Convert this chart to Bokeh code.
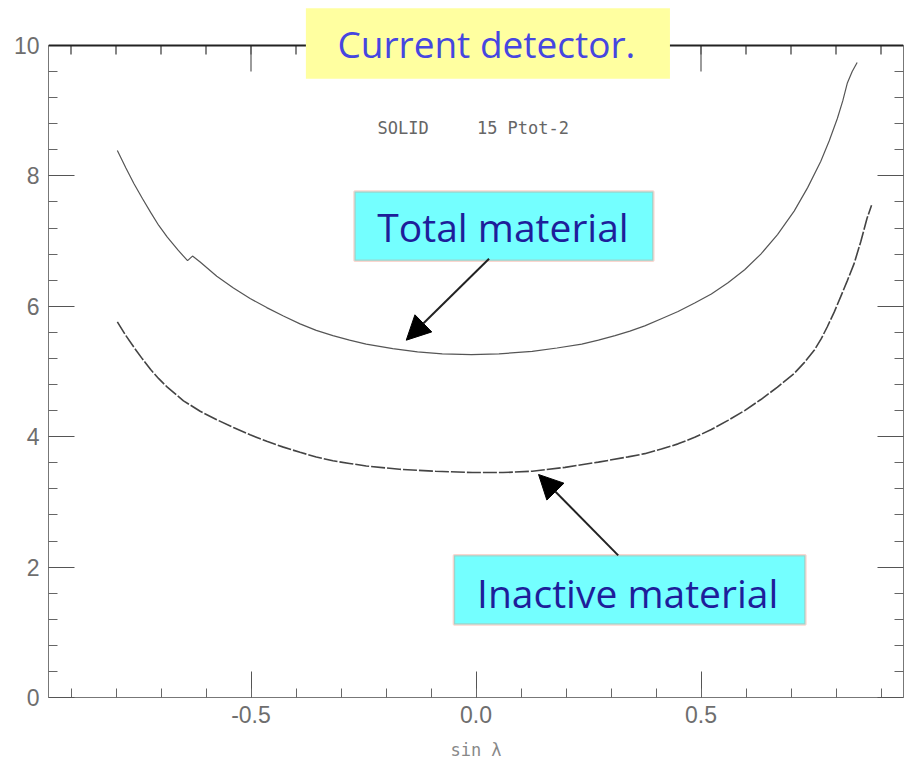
from bokeh.plotting import figure
from bokeh.models import (Range1d, LinearAxis, FixedTicker, Label, BoxAnnotation,
                          Arrow, NormalHead, Span)
from bokeh.embed import file_html
from bokeh.resources import INLINE

# ---- data ----
sin_lambda_total = [-0.797, -0.778, -0.760, -0.741, -0.723, -0.705, -0.686, -0.662, -0.641,
                    -0.630, -0.613, -0.576, -0.539, -0.502, -0.465, -0.428, -0.391, -0.355,
                    -0.318, -0.281, -0.244, -0.185, -0.130, -0.075, -0.010, 0.051, 0.125,
                    0.180, 0.235, 0.272, 0.309, 0.342, 0.375, 0.412, 0.449, 0.486, 0.523,
                    0.560, 0.597, 0.633, 0.670, 0.707, 0.737, 0.766, 0.785, 0.803, 0.815,
                    0.825, 0.836, 0.847]
total_material = [8.39, 8.12, 7.88, 7.65, 7.44, 7.24, 7.06, 6.86, 6.70,
                  6.77, 6.68, 6.46, 6.28, 6.12, 5.98, 5.85, 5.73, 5.63,
                  5.55, 5.48, 5.42, 5.35, 5.30, 5.27, 5.26, 5.27, 5.31,
                  5.36, 5.42, 5.48, 5.55, 5.62, 5.70, 5.81, 5.92, 6.05, 6.19,
                  6.36, 6.56, 6.80, 7.10, 7.46, 7.82, 8.22, 8.54, 8.88, 9.15,
                  9.42, 9.60, 9.74]

sin_lambda_inactive = [-0.797, -0.778, -0.760, -0.741, -0.723, -0.705, -0.686, -0.650, -0.613,
                       -0.576, -0.539, -0.502, -0.465, -0.428, -0.391, -0.355, -0.318, -0.281,
                       -0.244, -0.170, -0.090, -0.008, 0.060, 0.125, 0.198, 0.272, 0.338,
                       0.375, 0.412, 0.449, 0.486, 0.523, 0.560, 0.597, 0.633, 0.670, 0.707,
                       0.730, 0.752, 0.767, 0.781, 0.796, 0.810, 0.825, 0.840, 0.855, 0.869,
                       0.879]
inactive_material = [5.76, 5.55, 5.37, 5.19, 5.03, 4.89, 4.76, 4.55, 4.39,
                     4.26, 4.14, 4.03, 3.93, 3.84, 3.76, 3.69, 3.63, 3.59,
                     3.55, 3.50, 3.47, 3.45, 3.45, 3.47, 3.53, 3.61, 3.69,
                     3.74, 3.81, 3.89, 3.99, 4.11, 4.25, 4.40, 4.57, 4.76, 4.97,
                     5.14, 5.33, 5.50, 5.69, 5.91, 6.14, 6.39, 6.65, 6.99, 7.35,
                     7.55]

x_major_ticks = [-0.5, 0.0, 0.5]
x_minor_ticks = [-0.9, -0.8, -0.7, -0.6, -0.5, -0.4, -0.3, -0.2, -0.1, 0.0,
                 0.1, 0.2, 0.3, 0.4, 0.5, 0.6, 0.7, 0.8, 0.9]
x_tick_labels = {-0.5: "-0.5", 0.0: "0.0", 0.5: "0.5"}
y_major_ticks = [0, 2, 4, 6, 8, 10]
y_minor_ticks = [0.4, 0.8, 1.2, 1.6, 2.4, 2.8, 3.2, 3.6, 4.4, 4.8, 5.2, 5.6,
                 6.4, 6.8, 7.2, 7.6, 8.4, 8.8, 9.2, 9.6]

title_text = "Current detector."
total_label = "Total material"
inactive_label = "Inactive material"

Y_TOP = 10          # where the top edge of the plot box sits
PX_PER_Y = 65.2     # pixels per y unit (697 px frame / 10.69 units)

# the frame reaches the top of the page so that the title box (which overlaps the
# top edge) is not clipped; the top edge is drawn at y = 10
p = figure(width=905, height=762, output_backend="svg", toolbar_location=None,
           x_range=Range1d(-0.95, 0.95), y_range=Range1d(0, 10.69),
           x_axis_location=None, y_axis_location=None,
           min_border_left=48, min_border_right=2, min_border_top=0, min_border_bottom=65)
p.outline_line_color = None
p.xgrid.visible = False
p.ygrid.visible = False
p.background_fill_color = "white"
p.border_fill_color = "white"


def style_axis(ax, labels=True, line_color="#777777", line_width=1):
    ax.axis_line_color = line_color
    ax.axis_line_width = line_width
    ax.major_tick_line_color = "#555555"
    ax.minor_tick_line_color = "#666666"
    ax.major_tick_in = 26
    ax.major_tick_out = 0
    ax.minor_tick_in = 9
    ax.minor_tick_out = 0
    if labels:
        ax.major_label_text_font = "Liberation Sans"
        ax.major_label_text_font_size = "23px"
        ax.major_label_text_color = "#6e6e6e"
    else:
        ax.major_label_text_font_size = "1px"
        ax.major_label_text_color = None
        ax.major_label_standoff = 0


xt = FixedTicker(ticks=x_major_ticks, minor_ticks=x_minor_ticks)
yt = FixedTicker(ticks=y_major_ticks, minor_ticks=y_minor_ticks)

xb = LinearAxis(ticker=xt, axis_label="sin λ")
style_axis(xb)
xb.major_label_overrides = x_tick_labels
xb.major_label_standoff = 8
xb.axis_label_standoff = 14
xb.axis_label_text_font = "DejaVu Sans Mono"
xb.axis_label_text_font_size = "17px"
xb.axis_label_text_font_style = "normal"
xb.axis_label_text_color = "#888888"
p.add_layout(xb, "below")

yl = LinearAxis(ticker=yt, bounds=(0, 10))
style_axis(yl)
yl.major_label_standoff = 9
p.add_layout(yl, "left")

yr = LinearAxis(ticker=yt, bounds=(0, 10))
style_axis(yr, labels=False)
p.add_layout(yr, "right")

# ---- top edge of the plot box: a line at y = 10 with downward ticks ----
p.add_layout(Span(location=Y_TOP, dimension="width", line_color="#222222", line_width=2))
minor_len = 9 / PX_PER_Y
major_len = 26 / PX_PER_Y
p.segment(x0=x_minor_ticks, y0=[Y_TOP] * len(x_minor_ticks),
          x1=x_minor_ticks, y1=[Y_TOP - minor_len] * len(x_minor_ticks),
          line_color="#444444", line_width=1.3, level="annotation")
p.segment(x0=x_major_ticks, y0=[Y_TOP] * len(x_major_ticks),
          x1=x_major_ticks, y1=[Y_TOP - major_len] * len(x_major_ticks),
          line_color="#666666", line_width=1.3, level="annotation")

# ---- curves ----
p.line(sin_lambda_total, total_material, line_color="#555555", line_width=1.2)
p.line(sin_lambda_inactive, inactive_material, line_color="#444444", line_width=1.6,
       line_dash="14 2")

# ---- annotation boxes ----
p.add_layout(BoxAnnotation(left=-0.378, right=0.431, bottom=9.49, top=10.57,
                           fill_color="#ffffa0", fill_alpha=1.0, line_color=None))
p.add_layout(BoxAnnotation(left=-0.270, right=0.394, bottom=6.70, top=7.76,
                           fill_color="#74ffff", fill_alpha=1.0,
                           line_color="#f07860", line_width=2.5))
p.add_layout(BoxAnnotation(left=-0.049, right=0.732, bottom=1.12, top=2.18,
                           fill_color="#74ffff", fill_alpha=1.0,
                           line_color="#f07860", line_width=2.5))

p.add_layout(Label(x=0.023, y=10.03, text=title_text, text_align="center",
                   text_baseline="middle", text_font="Open Sans",
                   text_font_size="37px", text_color="#4646e0"))
p.add_layout(Label(x=0.060, y=7.22, text=total_label, text_align="center",
                   text_baseline="middle", text_font="Open Sans",
                   text_font_size="39px", text_color="#1e1e9a"))
p.add_layout(Label(x=0.337, y=1.61, text=inactive_label, text_align="center",
                   text_baseline="middle", text_font="Open Sans",
                   text_font_size="39px", text_color="#1e1e9a"))

p.add_layout(Label(x=-0.219, y=8.74, text="SOLID", text_align="left",
                   text_baseline="middle", text_font="DejaVu Sans Mono",
                   text_font_size="17px", text_color="#666666"))
p.add_layout(Label(x=0.002, y=8.74, text="15 Ptot-2", text_align="left",
                   text_baseline="middle", text_font="DejaVu Sans Mono",
                   text_font_size="17px", text_color="#666666"))

# ---- arrows ----
p.add_layout(Arrow(end=NormalHead(size=24, fill_color="black", line_color="black"),
                   x_start=0.029, y_start=6.73, x_end=-0.155, y_end=5.48,
                   line_color="#222222", line_width=2))
p.add_layout(Arrow(end=NormalHead(size=24, fill_color="black", line_color="black"),
                   x_start=0.316, y_start=2.18, x_end=0.139, y_end=3.42,
                   line_color="#222222", line_width=2))

open("out.html", "w").write(file_html(p, INLINE))
